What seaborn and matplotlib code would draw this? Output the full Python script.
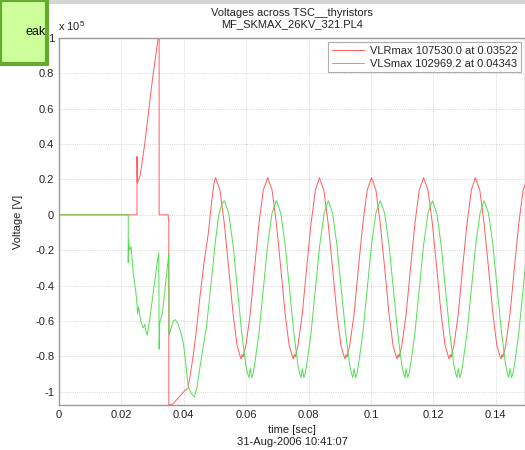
import matplotlib
matplotlib.use("Agg")
import matplotlib.pyplot as plt
import seaborn as sns
from matplotlib.patches import Rectangle
from matplotlib.ticker import FuncFormatter

# VLR (red) - switching transient, values in units of 1e5 V
red_t_start = [0.0, 0.0250, 0.0250, 0.0251, 0.0260, 0.0274, 0.0283, 0.0297, 0.0310,
               0.0318, 0.0321, 0.0321, 0.0350, 0.0351, 0.0352, 0.0352, 0.0365, 0.0380,
               0.0400, 0.0414, 0.0430, 0.0441, 0.0452, 0.0465, 0.0479, 0.0489, 0.0497]
red_v_start = [0, 0, 0.33, 0.18, 0.22, 0.39, 0.52, 0.73, 0.90,
               1.0, 1.0, 0.0, 0.0, -0.03, -0.03, -1.0753, -1.07, -1.04,
               -1.0, -0.98, -0.80, -0.646, -0.46, -0.27, -0.10, 0.07, 0.18]

# VLR steady state
red_t_steady = [
    0.0502, 0.0516, 0.0530, 0.0544, 0.0558, 0.0571, 0.0581, 0.0584, 0.0587, 0.0590, 0.0599, 0.0613, 0.0627, 0.0641, 0.0655,
    0.0669, 0.0683, 0.0697, 0.0711, 0.0725, 0.0738, 0.0748, 0.0751, 0.0754, 0.0757, 0.0766, 0.0780, 0.0794, 0.0808, 0.0822,
    0.0835, 0.0849, 0.0863, 0.0877, 0.0891, 0.0904, 0.0914, 0.0917, 0.0920, 0.0923, 0.0932, 0.0946, 0.0960, 0.0974, 0.0988,
    0.1002, 0.1016, 0.1030, 0.1044, 0.1058, 0.1071, 0.1081, 0.1084, 0.1087, 0.1090, 0.1099, 0.1113, 0.1127, 0.1141, 0.1155,
    0.1169, 0.1183, 0.1197, 0.1211, 0.1225, 0.1238, 0.1248, 0.1251, 0.1254, 0.1257, 0.1266, 0.1280, 0.1294, 0.1308, 0.1322,
    0.1335, 0.1349, 0.1363, 0.1377, 0.1391, 0.1404, 0.1414, 0.1417, 0.1420, 0.1423, 0.1432, 0.1446, 0.1460, 0.1474, 0.1488,
    0.1502, 0.1516]
red_v_steady = [
    0.21, 0.14, -0.05, -0.30, -0.56, -0.74, -0.80, -0.815, -0.79, -0.805, -0.74, -0.56, -0.30, -0.05, 0.14,
    0.21, 0.14, -0.05, -0.30, -0.56, -0.74, -0.80, -0.815, -0.79, -0.805, -0.74, -0.56, -0.30, -0.05, 0.14,
    0.21, 0.14, -0.05, -0.30, -0.56, -0.74, -0.80, -0.815, -0.79, -0.805, -0.74, -0.56, -0.30, -0.05, 0.14,
    0.21, 0.14, -0.05, -0.30, -0.56, -0.74, -0.80, -0.815, -0.79, -0.805, -0.74, -0.56, -0.30, -0.05, 0.14,
    0.21, 0.14, -0.05, -0.30, -0.56, -0.74, -0.80, -0.815, -0.79, -0.805, -0.74, -0.56, -0.30, -0.05, 0.14,
    0.21, 0.14, -0.05, -0.30, -0.56, -0.74, -0.80, -0.815, -0.79, -0.805, -0.74, -0.56, -0.30, -0.05, 0.14,
    0.21, 0.14]

# VLS (green) - switching transient
green_t_start = [0.0, 0.0222, 0.0222, 0.0223, 0.0226, 0.0231, 0.0238, 0.0245, 0.0249, 0.0252,
                 0.0255, 0.0262, 0.0270, 0.0275, 0.0279, 0.0283, 0.0290, 0.0300, 0.0308, 0.0315,
                 0.0320, 0.0321, 0.0323, 0.0332, 0.0340, 0.0346, 0.0352, 0.0353, 0.0361, 0.0367,
                 0.0373, 0.0380, 0.0390, 0.0399, 0.0407, 0.0414, 0.0424, 0.0434, 0.0442, 0.0452,
                 0.0462, 0.0473, 0.0487, 0.0500, 0.0512, 0.0522]
green_v_start = [0, 0, -0.27, -0.14, -0.20, -0.18, -0.33, -0.42, -0.48, -0.56,
                 -0.52, -0.60, -0.64, -0.62, -0.66, -0.68, -0.60, -0.47, -0.36, -0.27,
                 -0.215, -0.76, -0.61, -0.55, -0.42, -0.32, -0.22, -0.68, -0.63, -0.60,
                 -0.593, -0.61, -0.66, -0.73, -0.85, -0.97, -1.01, -1.03, -0.98, -0.86,
                 -0.75, -0.63, -0.40, -0.17, 0.0, 0.06]

# VLS steady state
green_t_steady = [
    0.0530, 0.0544, 0.0558, 0.0572, 0.0586, 0.0599, 0.0605, 0.0609, 0.0613, 0.0618, 0.0622, 0.0627, 0.0641, 0.0655, 0.0669, 0.0683,
    0.0697, 0.0711, 0.0725, 0.0739, 0.0753, 0.0766, 0.0772, 0.0776, 0.0780, 0.0785, 0.0789, 0.0794, 0.0808, 0.0822, 0.0836, 0.0850,
    0.0863, 0.0877, 0.0891, 0.0905, 0.0919, 0.0932, 0.0938, 0.0942, 0.0946, 0.0951, 0.0955, 0.0960, 0.0974, 0.0988, 0.1002, 0.1016,
    0.1030, 0.1044, 0.1058, 0.1072, 0.1086, 0.1099, 0.1105, 0.1109, 0.1113, 0.1118, 0.1122, 0.1127, 0.1141, 0.1155, 0.1169, 0.1183,
    0.1197, 0.1211, 0.1225, 0.1239, 0.1253, 0.1266, 0.1272, 0.1276, 0.1280, 0.1285, 0.1289, 0.1294, 0.1308, 0.1322, 0.1336, 0.1350,
    0.1363, 0.1377, 0.1391, 0.1405, 0.1419, 0.1432, 0.1438, 0.1442, 0.1446, 0.1451, 0.1455, 0.1460, 0.1474, 0.1488, 0.1502, 0.1516]
green_v_steady = [
    0.08, 0.01, -0.17, -0.42, -0.67, -0.85, -0.90, -0.92, -0.87, -0.92, -0.90, -0.85, -0.67, -0.42, -0.17, 0.01,
    0.08, 0.01, -0.17, -0.42, -0.67, -0.85, -0.90, -0.92, -0.87, -0.92, -0.90, -0.85, -0.67, -0.42, -0.17, 0.01,
    0.08, 0.01, -0.17, -0.42, -0.67, -0.85, -0.90, -0.92, -0.87, -0.92, -0.90, -0.85, -0.67, -0.42, -0.17, 0.01,
    0.08, 0.01, -0.17, -0.42, -0.67, -0.85, -0.90, -0.92, -0.87, -0.92, -0.90, -0.85, -0.67, -0.42, -0.17, 0.01,
    0.08, 0.01, -0.17, -0.42, -0.67, -0.85, -0.90, -0.92, -0.87, -0.92, -0.90, -0.85, -0.67, -0.42, -0.17, 0.01,
    0.08, 0.01, -0.17, -0.42, -0.67, -0.85, -0.90, -0.92, -0.87, -0.92, -0.90, -0.85, -0.67, -0.42, -0.17, 0.01]

red_label = "VLRmax 107530.0 at 0.03522"
green_label = "VLSmax 102969.2 at 0.04343"
x_ticks = [0, 0.02, 0.04, 0.06, 0.08, 0.1, 0.12, 0.14]
y_ticks = [-1, -0.8, -0.6, -0.4, -0.2, 0, 0.2, 0.4, 0.6, 0.8, 1]

red_t = red_t_start + red_t_steady
red_v = red_v_start + red_v_steady
green_t = green_t_start + green_t_steady
green_v = green_v_start + green_v_steady

sns.set_style("white")
plt.rcParams['font.family'] = ['Liberation Sans', 'DejaVu Sans']
plt.rcParams['mathtext.default'] = 'regular'

fig = plt.figure(figsize=(5.25, 4.5), dpi=100)
ax = fig.add_axes([59 / 525, 45 / 450, 466 / 525, 367 / 450])

sns.lineplot(x=red_t, y=red_v, sort=False, estimator=None, color='#ff5c5c',
             lw=0.7, label=red_label, ax=ax)
sns.lineplot(x=green_t, y=green_v, sort=False, estimator=None, color='#4fe04f',
             lw=0.7, label=green_label, ax=ax)

ax.set_xlim(0, 0.1494)
ax.set_ylim(-1.0753, 1.0)
ax.set_xticks(x_ticks)
ax.set_yticks(y_ticks)
fmt = FuncFormatter(lambda v, p: '%g' % round(v, 3))
ax.xaxis.set_major_formatter(fmt)
ax.yaxis.set_major_formatter(fmt)
ax.tick_params(direction='in', length=3, labelsize=8, color='#777', labelcolor='#222')
ax.grid(True, linestyle=':', color='#c8c8c8', lw=0.6)
for s in ax.spines.values():
    s.set_color('#999999')
    s.set_linewidth(1.0)

ax.set_title("Voltages across TSC__thyristors\nMF_SKMAX_26KV_321.PL4", fontsize=8,
             pad=8, color='#222', linespacing=1.1)
ax.set_xlabel("time [sec]\n31-Aug-2006 10:41:07", fontsize=8, color='#222',
              labelpad=4, linespacing=1.2)
ax.set_ylabel("Voltage [V]", fontsize=8, color='#222', labelpad=9)

leg = ax.legend(loc='upper right', fontsize=8, frameon=True, fancybox=False,
                edgecolor='#999999', borderaxespad=0.35, handlelength=2.9,
                labelspacing=0.25, borderpad=0.35, handletextpad=0.5)
leg.get_frame().set_linewidth(0.8)

fig.text(58 / 525, 1 - 31 / 450, "x 10$^5$", fontsize=8, color='#222')

# cropped window decorations
fig.patches.append(Rectangle((0, 1 - 4 / 450), 1, 4 / 450, transform=fig.transFigure,
                             facecolor='#d4d4d4', edgecolor='none'))
fig.patches.append(Rectangle((0, 1 - 64 / 450), 47 / 525, 64 / 450, transform=fig.transFigure,
                             facecolor='#ccff99', edgecolor='#66a832', lw=3))
fig.text(46 / 525, 1 - 32 / 450, "eak", fontsize=9, ha='right', va='center', color='#111')

fig.savefig("out.png", dpi=100)
